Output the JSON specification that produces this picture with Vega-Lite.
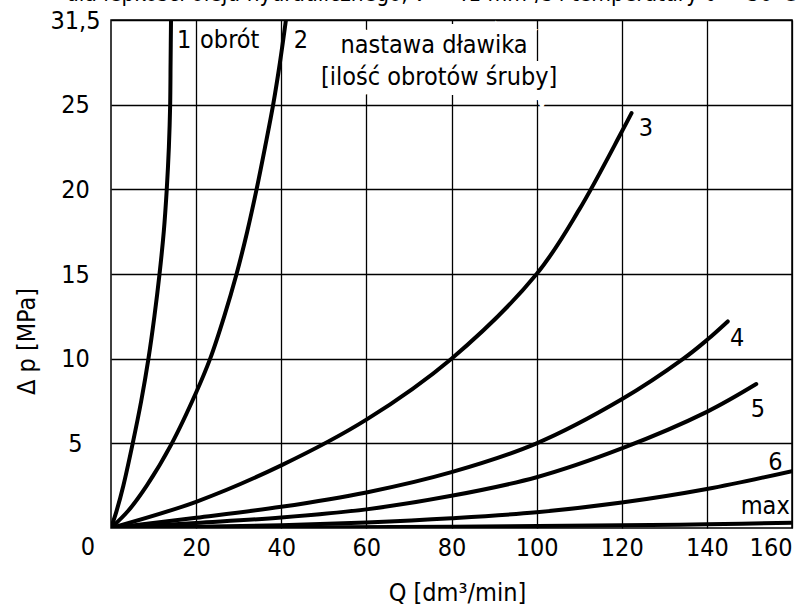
{
  "$schema": "https://vega.github.io/schema/vega-lite/v6.json",
  "width": 681,
  "height": 508,
  "autosize": "none",
  "padding": {"top": 20, "left": 111, "right": 18, "bottom": 80},
  "background": "white",
  "title": {
    "text": "dla lepkości oleju hydraulicznego, ν = 41 mm²/s i temperatury ϑ = 50°C",
    "anchor": "start",
    "frame": "group",
    "fontSize": 22.5,
    "fontWeight": "normal",
    "color": "black",
    "baseline": "alphabetic",
    "offset": 5,
    "dx": -45,
    "dy": 20
  },
  "config": {
    "font": "DejaVu Sans Condensed",
    "view": {"stroke": "black", "strokeWidth": 1.5},
    "axis": {
      "grid": true,
      "gridColor": "black",
      "gridOpacity": 1,
      "gridWidth": 1.3,
      "ticks": false,
      "tickSize": 0,
      "domain": false,
      "labelFontSize": 25,
      "labelColor": "black",
      "titleFontSize": 25,
      "titleFontWeight": "normal",
      "titleColor": "black",
      "labelFont": "DejaVu Sans Condensed",
      "titleFont": "DejaVu Sans Condensed"
    }
  },
  "datasets": {
    "curves": [
      {"s": "1", "Q": 0, "dp": 0}, {"s": "1", "Q": 1.3, "dp": 1}, {"s": "1", "Q": 2.9, "dp": 2.5}, {"s": "1", "Q": 5.1, "dp": 5}, {"s": "1", "Q": 7.1, "dp": 7.5}, {"s": "1", "Q": 8.8, "dp": 10}, {"s": "1", "Q": 10.2, "dp": 12.5}, {"s": "1", "Q": 11.4, "dp": 15}, {"s": "1", "Q": 12.4, "dp": 17.5}, {"s": "1", "Q": 13.1, "dp": 20}, {"s": "1", "Q": 13.6, "dp": 22.5}, {"s": "1", "Q": 13.9, "dp": 25}, {"s": "1", "Q": 14.0, "dp": 27.5}, {"s": "1", "Q": 14.1, "dp": 30},
      {"s": "2", "Q": 0, "dp": 0}, {"s": "2", "Q": 4, "dp": 1.0}, {"s": "2", "Q": 8.4, "dp": 2.5}, {"s": "2", "Q": 14.3, "dp": 5}, {"s": "2", "Q": 20, "dp": 8}, {"s": "2", "Q": 23.3, "dp": 10}, {"s": "2", "Q": 26.6, "dp": 12.5}, {"s": "2", "Q": 29.5, "dp": 15}, {"s": "2", "Q": 32, "dp": 17.5}, {"s": "2", "Q": 34.2, "dp": 20}, {"s": "2", "Q": 36.2, "dp": 22.5}, {"s": "2", "Q": 38.1, "dp": 25}, {"s": "2", "Q": 39.7, "dp": 27.5}, {"s": "2", "Q": 41.1, "dp": 30},
      {"s": "3", "Q": 0, "dp": 0}, {"s": "3", "Q": 20, "dp": 1.55}, {"s": "3", "Q": 40, "dp": 3.7}, {"s": "3", "Q": 60, "dp": 6.4}, {"s": "3", "Q": 80, "dp": 10}, {"s": "3", "Q": 100, "dp": 15}, {"s": "3", "Q": 110, "dp": 18.8}, {"s": "3", "Q": 120, "dp": 23.4}, {"s": "3", "Q": 122.3, "dp": 24.5},
      {"s": "4", "Q": 0, "dp": 0}, {"s": "4", "Q": 20, "dp": 0.6}, {"s": "4", "Q": 40, "dp": 1.25}, {"s": "4", "Q": 60, "dp": 2.1}, {"s": "4", "Q": 80, "dp": 3.3}, {"s": "4", "Q": 100, "dp": 5.0}, {"s": "4", "Q": 120, "dp": 7.6}, {"s": "4", "Q": 134.5, "dp": 10}, {"s": "4", "Q": 140, "dp": 11.1}, {"s": "4", "Q": 144.9, "dp": 12.2},
      {"s": "5", "Q": 0, "dp": 0}, {"s": "5", "Q": 20, "dp": 0.3}, {"s": "5", "Q": 40, "dp": 0.62}, {"s": "5", "Q": 60, "dp": 1.1}, {"s": "5", "Q": 80, "dp": 1.9}, {"s": "5", "Q": 100, "dp": 3.0}, {"s": "5", "Q": 120, "dp": 4.7}, {"s": "5", "Q": 140, "dp": 6.86}, {"s": "5", "Q": 151.6, "dp": 8.5},
      {"s": "6", "Q": 0, "dp": 0}, {"s": "6", "Q": 20, "dp": 0.07}, {"s": "6", "Q": 40, "dp": 0.16}, {"s": "6", "Q": 60, "dp": 0.33}, {"s": "6", "Q": 80, "dp": 0.58}, {"s": "6", "Q": 100, "dp": 0.93}, {"s": "6", "Q": 120, "dp": 1.5}, {"s": "6", "Q": 140, "dp": 2.3}, {"s": "6", "Q": 160, "dp": 3.36},
      {"s": "max", "Q": 0, "dp": 0}, {"s": "max", "Q": 40, "dp": 0.03}, {"s": "max", "Q": 80, "dp": 0.08}, {"s": "max", "Q": 120, "dp": 0.16}, {"s": "max", "Q": 140, "dp": 0.22}, {"s": "max", "Q": 160, "dp": 0.31}
    ],
    "labels": [
      {"t": "1", "Q": 17.2, "dp": 28.8},
      {"t": "obrót", "Q": 27.9, "dp": 28.8},
      {"t": "2", "Q": 44.6, "dp": 28.8},
      {"t": "3", "Q": 125.7, "dp": 23.6},
      {"t": "4", "Q": 147.1, "dp": 11.2},
      {"t": "5", "Q": 152.0, "dp": 7.05},
      {"t": "6", "Q": 156.1, "dp": 3.87},
      {"t": "max", "Q": 153.7, "dp": 1.3}
    ],
    "note": [
      {"t": "nastawa dławika", "Q": 75.9, "dp": 28.5},
      {"t": "[ilość obrotów śruby]", "Q": 77.1, "dp": 26.65}
    ],
    "origin": [{"t": "0", "Q": 0, "dp": 0}]
  },
  "encoding": {
    "x": {
      "field": "Q",
      "type": "quantitative",
      "scale": {"domain": [0, 160], "nice": false},
      "axis": {
        "values": [20, 40, 60, 80, 100, 120, 140, 160],
        "labelBaseline": "middle",
        "labelPadding": 19,
        "title": "Q  [dm³/min]",
        "titleX": 346,
        "titleY": 64,
        "titleAlign": "center",
        "titleBaseline": "middle"
      }
    },
    "y": {
      "field": "dp",
      "type": "quantitative",
      "scale": {"domain": [0, 30], "nice": false},
      "axis": {
        "values": [5, 10, 15, 20, 25, 30],
        "labelExpr": "datum.value == 30 ? '31,5' : datum.label",
        "labelAlign": "center",
        "labelPadding": 36,
        "title": "Δ p  [MPa]",
        "titleX": -85,
        "titleY": 321,
        "titleAlign": "center",
        "titleBaseline": "middle",
        "titleAngle": -90
      }
    }
  },
  "layer": [
    {
      "data": {"name": "curves"},
      "mark": {"type": "line", "color": "black", "strokeWidth": 4, "interpolate": "catmull-rom", "strokeCap": "round", "clip": true},
      "encoding": {"detail": {"field": "s"}}
    },
    {
      "data": {"name": "labels"},
      "mark": {"type": "text", "fontSize": 25, "color": "black", "align": "center", "baseline": "middle"},
      "encoding": {"text": {"field": "t"}}
    },
    {
      "data": {"name": "note"},
      "mark": {"type": "text", "fontSize": 25, "color": "white", "stroke": "white", "strokeWidth": 20, "align": "center", "baseline": "middle"},
      "encoding": {"text": {"field": "t"}}
    },
    {
      "data": {"name": "note"},
      "mark": {"type": "text", "fontSize": 25, "color": "black", "align": "center", "baseline": "middle"},
      "encoding": {"text": {"field": "t"}}
    },
    {
      "data": {"name": "origin"},
      "mark": {"type": "text", "fontSize": 25, "color": "black", "align": "center", "baseline": "middle", "dx": -23, "dy": 19},
      "encoding": {"text": {"field": "t"}}
    }
  ]
}
